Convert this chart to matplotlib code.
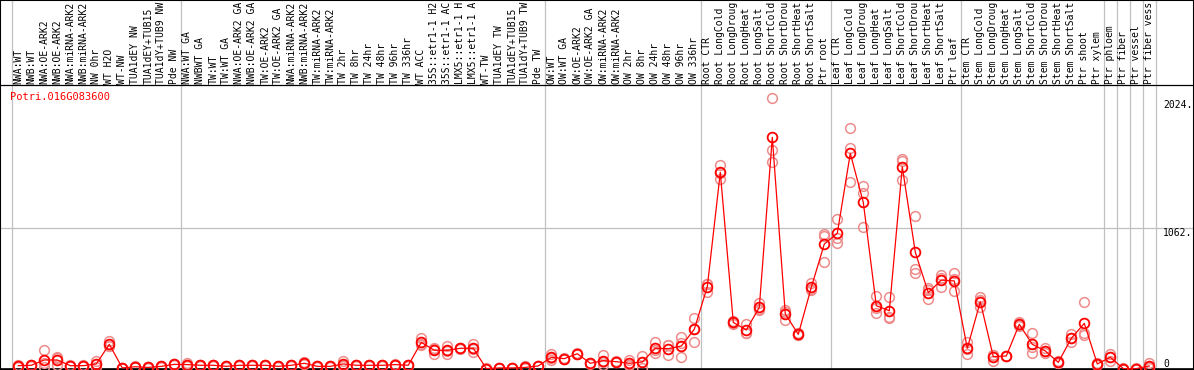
import numpy as np
import matplotlib
matplotlib.use("Agg")
import matplotlib.pyplot as plt

# Etiquetas de las muestras (tal como se ven, recortadas arriba)
muestras = [
    "NWA:WT", "NWB:WT", "NWA:OE-ARK2", "NWB:OE-ARK2", "NWA:miRNA-ARK2",
    "NWB:miRNA-ARK2", "NW 0hr", "WT H2O", "WT-NW", "TUA1dEY NW",
    "TUA1dEY+TUB15", "TUA1dY+TUB9 NW", "Pde NW",
    "NWA:WT GA", "NWBWT GA", "TW:WT", "TW:WT GA", "NWA:OE-ARK2 GA",
    "NWB:OE-ARK2 GA", "TW:OE-ARK2", "TW:OE-ARK2 GA", "NWA:miRNA-ARK2",
    "NWB:miRNA-ARK2", "TW:miRNA-ARK2", "TW:miRNA-ARK2", "TW 2hr", "TW 8hr",
    "TW 24hr", "TW 48hr", "TW 96hr", "TW 336hr", "WT ACC",
    "35S::etr1-1 H2", "35S::etr1-1 AC", "LMX5::etr1-1 H",
    "LMX5::etr1-1 A", "WT-TW", "TUA1dEY TW", "TUA1dEY+TUB15",
    "TUA1dY+TUB9 TW", "Pde TW",
    "OW:WT", "OW:WT GA", "OW:OE-ARK2", "OW:OE-ARK2 GA", "OW:miRNA-ARK2",
    "OW:miRNA-ARK2", "OW 2hr", "OW 8hr", "OW 24hr", "OW 48hr", "OW 96hr",
    "OW 336hr",
    "Root CTR", "Root LongCold", "Root LongDroug", "Root LongHeat",
    "Root LongSalt", "Root ShortCold", "Root ShortDrou", "Root ShortHeat",
    "Root ShortSalt", "Ptr root",
    "Leaf CTR", "Leaf LongCold", "Leaf LongDroug", "Leaf LongHeat",
    "Leaf LongSalt", "Leaf ShortCold", "Leaf ShortDrou", "Leaf ShortHeat",
    "Leaf ShortSalt", "Ptr leaf",
    "Stem CTR", "Stem LongCold", "Stem LongDroug", "Stem LongHeat",
    "Stem LongSalt", "Stem ShortCold", "Stem ShortDrou", "Stem ShortHeat",
    "Stem ShortSalt", "Ptr shoot", "Ptr xylem",
    "Ptr phloem", "Ptr fiber", "Ptr vessel", "Ptr fiber vess",
]

# Separadores de grupo (indice de la primera muestra de cada grupo)
inicio_grupos = [0, 13, 41, 53, 63, 73, 84, 85, 86, 87, 88]

# Valores medios
medias = [
    25, 28, 68, 68, 25, 25, 38, 186, 8, 17, 12, 20, 35,
    33, 28, 28, 20, 28, 28, 28, 20, 28, 43, 20, 20, 38, 28, 28, 28, 33,
    28, 201, 141, 141, 156, 156, 3, 8, 8, 12, 23,
    88, 78, 115, 43, 63, 55, 43, 53, 156, 153, 173, 299,
    620, 1481, 351, 294, 464, 1745, 414, 261, 615, 941,
    1022, 1624, 1255, 477, 439, 1523, 879, 575, 670, 663,
    156, 507, 93, 98, 337, 186, 136, 50, 231, 344, 38,
    88, 3, 3, 23,
]

# Replicas
replicas = [
    [30, 22, 18], [28, 25, 30], [143, 17, 45], [93, 30, 80], [25, 22, 28],
    [32, 20, 23], [63, 15, 35], [213, 170, 175], [8, 5, 10], [25, 12, 14],
    [10, 12, 14], [25, 17, 18], [35, 33, 37],
    [45, 25, 30], [28, 26, 30], [32, 24, 28], [20, 18, 22], [28, 26, 30],
    [30, 25, 28], [28, 26, 30], [20, 18, 22], [28, 26, 30], [55, 35, 40],
    [20, 18, 22], [22, 18, 20], [63, 25, 27], [28, 26, 30], [30, 26, 28],
    [28, 26, 30], [35, 30, 33], [30, 25, 28], [231, 180, 192],
    [113, 160, 150], [173, 113, 137], [160, 152, 156], [188, 130, 150],
    [3, 2, 5], [8, 6, 10], [10, 6, 8], [20, 8, 10], [25, 20, 24],
    [113, 70, 80], [80, 75, 78], [118, 112, 115], [45, 40, 43],
    [105, 30, 55], [60, 50, 55], [70, 30, 30], [98, 5, 55], [206, 123, 140],
    [178, 103, 178], [238, 88, 193], [386, 206, 305],
    [582, 640, 640], [1536, 1428, 1480], [365, 340, 348], [339, 270, 273],
    [499, 450, 443], [2038, 1649, 1561], [444, 369, 430], [270, 255, 258],
    [645, 595, 605], [1001, 808, 1014],
    [1127, 951, 988], [1812, 1662, 1406], [1378, 1328, 1067],
    [550, 424, 457], [540, 382, 395], [1579, 1423, 1567], [1152, 751, 721],
    [608, 525, 592], [708, 615, 687], [725, 587, 677],
    [206, 113, 149], [540, 464, 517], [63, 108, 108], [100, 96, 98],
    [354, 325, 332], [273, 123, 162], [156, 120, 132], [60, 42, 48],
    [261, 201, 231], [502, 256, 274], [45, 30, 38],
    [113, 60, 90], [3, 2, 4], [3, 2, 4], [43, 10, 16],
]

gen = "Potri.016G083600"
etiquetas_y = [(2024, "2024."), (1062, "1062."), (0, "0")]

# Geometria en pixeles de la figura
ANCHO, ALTO = 1194, 370
X0, DX = 18.3, 13.0        # pixel de la primera muestra y paso
Y_CERO, PX_1062 = 369, 141  # pixel del cero y pixeles por 1062 unidades
ESCALA = 1062 / PX_1062


def px_a_valor(p):
    return (Y_CERO - p) * ESCALA


fig = plt.figure(figsize=(ANCHO / 100, ALTO / 100), dpi=100)
ax = fig.add_axes([0, 0, 1, 1])
ax.set_xlim(-X0 / DX, (ANCHO - X0) / DX)
ax.set_ylim(px_a_valor(ALTO), px_a_valor(0))
ax.set_xticks([])
ax.set_yticks([])
for s in ax.spines.values():
    s.set_color("black")
    s.set_linewidth(1.5)

gris = "#c0c0c0"
fuente = dict(family="DejaVu Sans Mono", size=7.0)

# lineas guia
ax.axhline(1062, color=gris, lw=0.9, zorder=1)
for g in inicio_grupos:
    ax.axvline(g - 0.5, color=gris, lw=0.9, zorder=1)
ax.axhline(px_a_valor(85), color="black", lw=0.9, zorder=2)
ax.axhline(0, color="black", lw=1.2, zorder=2)

x = np.arange(len(medias))
rep = np.array(replicas)
for k in range(rep.shape[1]):
    ax.plot(x, rep[:, k], ls="none", marker="o", ms=7, mfc="none",
            mec="#ee8c8c", mew=1.1, zorder=3)
ax.plot(x, medias, color="red", lw=0.9, marker="o", ms=7, mfc="none",
        mec="red", mew=1.3, zorder=4)

# etiquetas verticales
for i, nombre in enumerate(muestras):
    ax.text(i, px_a_valor(84), nombre, rotation=90, ha="center", va="bottom",
            color="black", **fuente)

xl = (1163 - X0) / DX
for v, t in etiquetas_y:
    if v == 0:
        ax.text(xl, v, t, ha="left", va="bottom", **fuente)
    else:
        ax.text(xl, v, t, ha="left", va="top", **fuente)

ax.text((10 - X0) / DX, px_a_valor(97), gen, color="red", ha="left",
        va="center", family="DejaVu Sans Mono", size=7.5)

fig.savefig("out.png", dpi=100)
